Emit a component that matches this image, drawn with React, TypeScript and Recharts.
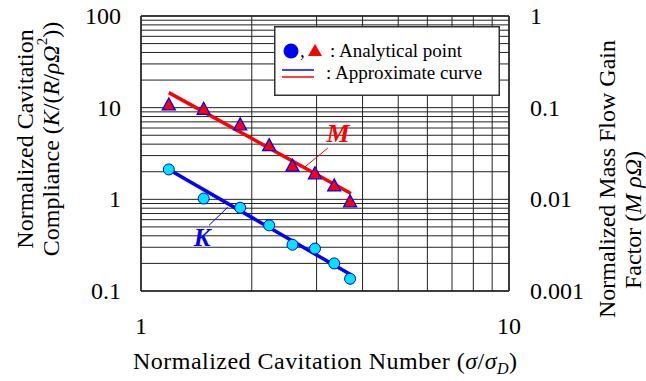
import React from 'react';
import {
    ComposedChart, Scatter, Line, XAxis, YAxis, ReferenceLine, ReferenceArea, ReferenceDot, Label,
} from 'recharts';

// sigma / sigma_D
const sigmaRatio = [1.19, 1.48, 1.86, 2.23, 2.58, 2.97, 3.35, 3.70];
// normalized cavitation compliance K (left axis)
const complianceK = [2.12, 1.02, 0.81, 0.52, 0.32, 0.29, 0.20, 0.136];
// normalized mass flow gain factor M (right axis)
const massFlowM = [0.107, 0.096, 0.065, 0.0385, 0.023, 0.019, 0.014, 0.0094];

// approximate curves (end points)
const fitX = [1.19, 3.72];
const fitK = [2.12, 0.15];
const fitM = [0.146, 0.0116];

const xTicks = [1, 10];
const leftTicks = [0.1, 1, 10, 100];
const rightTicks = [0.001, 0.01, 0.1, 1];
const mantissas = [1, 2, 3, 4, 5, 6, 7, 8, 9];
const leftDecades = [0.1, 1, 10];

// label annotations
const mLabel = { x: 3.43, y: 0.053 };
const mBox = { x1: 3.03, x2: 3.91, y1: 0.0392, y2: 0.0734 };
const mLeader = [{ x: 3.22, y: 0.0363 }, { x: 2.79, y: 0.0226 }];
const kLabel = { x: 1.465, y: 0.385 };
const kBox = { x1: 1.276, x2: 1.67, y1: 0.285, y2: 0.534 };
const kLeader = [{ x: 1.53, y: 0.52 }, { x: 1.72, y: 0.818 }];

const pointsK = sigmaRatio.map((x, i) => ({ x, y: complianceK[i] }));
const pointsM = sigmaRatio.map((x, i) => ({ x, y: massFlowM[i] }));
const lineK = fitX.map((x, i) => ({ x, k: fitK[i] }));
const lineM = fitX.map((x, i) => ({ x, m: fitM[i] }));
const gridY = leftDecades.flatMap((d) => mantissas.map((m) => +(m * d).toPrecision(3))).concat([100]);
const gridX = mantissas.map((m) => m).concat([10]);

const FONT = "'Liberation Serif', 'Times New Roman', serif";
const serif = { fontFamily: FONT };

const fmt = (v: number) => (v >= 1 ? String(v) : String(+v.toPrecision(1)));

const Circle = (props: any) => (
    <circle cx={props.cx} cy={props.cy} r={5.5} fill="#00e5ff" stroke="#0000dd" strokeWidth={1} />
);

const Triangle = (props: any) => {
    const { cx, cy } = props;
    return (
        <polygon
            points={`${cx},${cy - 7} ${cx - 6.5},${cy + 5} ${cx + 6.5},${cy + 5}`}
            fill="#ff0000"
            stroke="#0000ff"
            strokeWidth={1.3}
        />
    );
};

const LegendBox = () => (
    <svg width={226} height={70} style={{ display: 'block' }}>
        <rect x={0.75} y={0.75} width={224.5} height={68.5} fill="#fff" stroke="#333" strokeWidth={1.5} />
        <circle cx={17} cy={25} r={7.5} fill="#0000ff" />
        <text x={26} y={31} style={serif} fontSize={19} fill="#000">,</text>
        <polygon points="41,18 34,30 48,30" fill="#ff0000" />
        <text x={56} y={31} style={serif} fontSize={19} fill="#000">: Analytical point</text>
        <line x1={8} x2={40} y1={44} y2={44} stroke="#0000ff" strokeWidth={1.5} />
        <line x1={8} x2={40} y1={51} y2={51} stroke="#ff0000" strokeWidth={1.5} />
        <text x={52} y={53} style={serif} fontSize={19} fill="#000">: Approximate curve</text>
    </svg>
);

const LeftTick = (props: any) => (
    <text x={props.x} y={props.y} dy={8} textAnchor="end" style={serif} fontSize={24} fill="#000">
        {fmt(props.payload.value)}
    </text>
);

const RightTick = (props: any) => (
    <text x={props.x} y={props.y} dy={8} textAnchor="start" style={serif} fontSize={24} fill="#000">
        {fmt(props.payload.value)}
    </text>
);

const BottomTick = (props: any) => (
    <text x={props.x} y={props.y} dy={8} textAnchor="middle" style={serif} fontSize={24} fill="#000">
        {fmt(props.payload.value)}
    </text>
);

const LeftTitle = () => (
    <g style={serif} fontSize={24} fill="#000">
        <text transform="translate(25,139) rotate(-90)" textAnchor="middle" dominantBaseline="central">
            Normalized Cavitation
        </text>
        <text transform="translate(51,139) rotate(-90)" textAnchor="middle" dominantBaseline="central">
            Compliance (<tspan fontStyle="italic">K</tspan>/(<tspan fontStyle="italic">R</tspan>/<tspan fontStyle="italic">ρΩ</tspan><tspan fontSize={15} dy={-9}>2</tspan><tspan dy={9}>))</tspan>
        </text>
    </g>
);

const RightTitle = () => (
    <g style={serif} fontSize={24} fill="#000">
        <text transform="translate(607,179) rotate(-90)" textAnchor="middle" dominantBaseline="central">
            Normalized Mass Flow Gain
        </text>
        <text transform="translate(633,220) rotate(-90)" textAnchor="middle" dominantBaseline="central">
            Factor (<tspan fontStyle="italic">M ρΩ</tspan>)
        </text>
    </g>
);

const BottomTitle = () => (
    <text x={325} y={369} textAnchor="middle" style={serif} fontSize={24} fill="#000" textLength={384}>
        Normalized Cavitation Number (<tspan fontStyle="italic">σ</tspan>/<tspan fontStyle="italic">σ</tspan><tspan fontStyle="italic" fontSize={16} dy={5}>D</tspan><tspan dy={-5}>)</tspan>
    </text>
);

export default function App() {
    return (
        <div style={{ position: 'absolute', left: 0, top: 0, width: 646, height: 381, background: '#fff' }}>
            <ComposedChart width={646} height={381} margin={{ top: 16, right: 0, bottom: 0, left: 0 }}>
                <XAxis
                    dataKey="x"
                    type="number"
                    scale="log"
                    domain={[1, 10]}
                    ticks={xTicks}
                    allowDataOverflow
                    height={90}
                    axisLine={false}
                    tickLine={false}
                    tickSize={0}
                    tickMargin={35}
                    tick={<BottomTick />}
                >
                    <Label content={<BottomTitle />} />
                </XAxis>
                <YAxis
                    yAxisId="left"
                    type="number"
                    scale="log"
                    domain={[0.1, 100]}
                    ticks={leftTicks}
                    allowDataOverflow
                    width={141}
                    axisLine={false}
                    tickLine={false}
                    tickSize={0}
                    tickMargin={20}
                    tick={<LeftTick />}
                >
                    <Label content={<LeftTitle />} />
                </YAxis>
                <YAxis
                    yAxisId="right"
                    orientation="right"
                    type="number"
                    scale="log"
                    domain={[0.001, 1]}
                    ticks={rightTicks}
                    allowDataOverflow
                    width={137}
                    axisLine={false}
                    tickLine={false}
                    tickSize={0}
                    tickMargin={21}
                    tick={<RightTick />}
                >
                    <Label content={<RightTitle />} />
                </YAxis>

                {gridY.map((v) => (
                    <ReferenceLine key={`gy-${v}`} yAxisId="left" y={v} stroke="#222" strokeWidth={1} />
                ))}
                {gridX.map((v) => (
                    <ReferenceLine key={`gx-${v}`} yAxisId="left" x={v} stroke="#222" strokeWidth={1} />
                ))}
                <ReferenceLine yAxisId="left" x={1} stroke="#222" strokeWidth={1.5} />
                <ReferenceLine yAxisId="left" x={10} stroke="#222" strokeWidth={1.5} />
                <ReferenceLine yAxisId="left" y={0.1} stroke="#222" strokeWidth={1.5} />
                <ReferenceLine yAxisId="left" y={100} stroke="#222" strokeWidth={1.5} />

                <ReferenceArea yAxisId="right" x1={mBox.x1} x2={mBox.x2} y1={mBox.y1} y2={mBox.y2} fill="#fff" fillOpacity={1} stroke="none" />
                <ReferenceArea yAxisId="left" x1={kBox.x1} x2={kBox.x2} y1={kBox.y1} y2={kBox.y2} fill="#fff" fillOpacity={1} stroke="none" />
                <ReferenceLine yAxisId="right" segment={mLeader} stroke="#ff0000" strokeWidth={1} />
                <ReferenceLine yAxisId="left" segment={kLeader} stroke="#0000ff" strokeWidth={1} />
                <ReferenceDot
                    yAxisId="right"
                    x={mLabel.x}
                    y={mLabel.y}
                    r={0}
                    shape={(p: any) => (
                        <text x={p.cx} y={p.cy} dy={9} textAnchor="middle" style={serif} fontSize={26} fontWeight="bold" fontStyle="italic" fill="#ff0000">M</text>
                    )}
                />
                <ReferenceDot
                    yAxisId="left"
                    x={kLabel.x}
                    y={kLabel.y}
                    r={0}
                    shape={(p: any) => (
                        <text x={p.cx} y={p.cy} dy={9} textAnchor="middle" style={serif} fontSize={25} fontWeight="bold" fontStyle="italic" fill="#0000ff">K</text>
                    )}
                />

                <Line yAxisId="left" data={lineK} dataKey="k" type="linear" stroke="#0000ff" strokeWidth={3.5} dot={false} activeDot={false} isAnimationActive={false} />
                <Line yAxisId="right" data={lineM} dataKey="m" type="linear" stroke="#ff0000" strokeWidth={3.5} dot={false} activeDot={false} isAnimationActive={false} />
                <Scatter yAxisId="left" data={pointsK} dataKey="y" shape={<Circle />} isAnimationActive={false} />
                <Scatter yAxisId="right" data={pointsM} dataKey="y" shape={<Triangle />} isAnimationActive={false} />
            </ComposedChart>
            <div style={{ position: 'absolute', left: 274, top: 26 }}>
                <LegendBox />
            </div>
        </div>
    );
}
